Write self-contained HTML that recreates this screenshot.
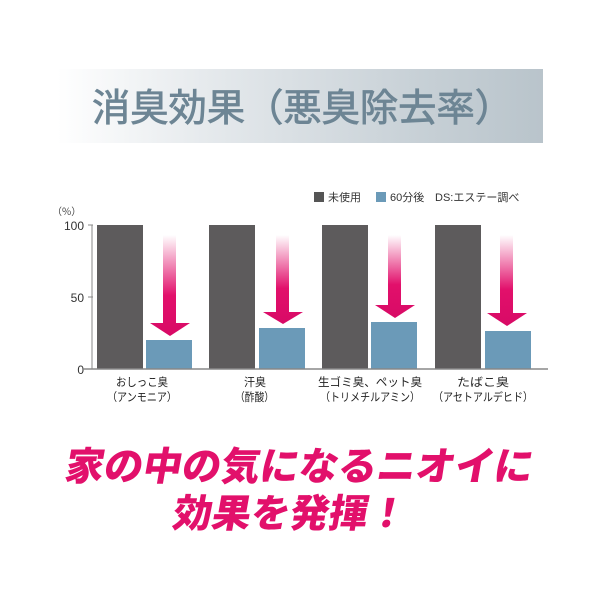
<!DOCTYPE html>
<html><head><meta charset="utf-8"><style>
body{margin:0;width:600px;height:600px;background:#fff;position:relative;overflow:hidden;font-family:"Noto Sans CJK JP","Liberation Sans",sans-serif}
.band{position:absolute;left:57px;top:69px;width:486px;height:74px;background:linear-gradient(90deg,#fff 0%,#e6eaed 30%,#c7d0d6 75%,#b9c4cb 100%)}
.pink{position:absolute;color:#e2106b;font-weight:900;font-size:39px;line-height:40px;transform:skewX(-10deg);white-space:nowrap;font-family:"Noto Sans CJK JP",sans-serif}
</style></head><body>
<div class="band"></div>
<svg width="600" height="600" style="position:absolute;left:0;top:0" font-family="Liberation Sans, Noto Sans CJK JP, sans-serif">
<defs><linearGradient id="g" x1="0" y1="0" x2="0" y2="1"><stop offset="0" stop-color="#e2106b" stop-opacity="0"/><stop offset="0.6" stop-color="#e2106b"/><stop offset="1" stop-color="#d80a66"/></linearGradient></defs>
<text x="92" y="121" font-size="38" fill="#6d8594" stroke="#6d8594" stroke-width="0.8" textLength="421" lengthAdjust="spacingAndGlyphs" font-family="Noto Sans CJK JP, sans-serif">消臭効果&#xFF08;悪臭除去率&#xFF09;</text>
<rect x="314" y="192" width="10" height="10" fill="#555"/>
<text x="328" y="201" font-size="11" fill="#333">未使用</text>
<rect x="376" y="192" width="10" height="10" fill="#6b9ab8"/>
<text x="390" y="201" font-size="11" fill="#333">60分後</text>
<text x="435" y="201" font-size="11" fill="#333">DS:エステー調べ</text>
<text x="52" y="215" font-size="10" fill="#444" font-family="Noto Sans CJK JP, sans-serif">&#xFF08;%&#xFF09;</text>
<line x1="88" y1="225" x2="93" y2="225" stroke="#888"/>
<line x1="88" y1="297" x2="93" y2="297" stroke="#888"/>
<line x1="92" y1="225" x2="92" y2="369" stroke="#888"/>
<text x="84" y="230" font-size="12" text-anchor="end" fill="#333">100</text>
<text x="84" y="302" font-size="12" text-anchor="end" fill="#333">50</text>
<text x="84" y="374" font-size="12" text-anchor="end" fill="#333">0</text>
<g fill="#5d5b5c">
<rect x="97" y="225" width="46" height="144"/><rect x="209" y="225" width="46" height="144"/><rect x="322" y="225" width="46" height="144"/><rect x="435" y="225" width="46" height="144"/></g>
<g fill="#6b9ab8">
<rect x="146" y="340" width="46" height="29"/><rect x="259" y="328" width="46" height="41"/><rect x="371" y="322" width="46" height="47"/><rect x="485" y="331" width="46" height="38"/></g>
<line x1="83" y1="369" x2="548" y2="369" stroke="#888" stroke-width="1.5"/>
<g fill="url(#g)">
<path d="M163 235h13v88h14l-20 13l-20-13h13z"/>
<path d="M276 235h13v77h14l-20 12l-20-12h13z"/>
<path d="M388 235h13v70h14l-20 13l-20-13h13z"/>
<path d="M500 235h13v78h14l-20 13l-20-13h13z"/>
</g>
<g font-size="11.5" fill="#222" font-family="Noto Sans CJK JP, sans-serif">
<text x="116" y="386" textLength="52" lengthAdjust="spacingAndGlyphs">おしっこ臭</text><text x="107" y="401" textLength="70" lengthAdjust="spacingAndGlyphs">&#xFF08;アンモニア&#xFF09;</text>
<text x="244" y="386" textLength="22" lengthAdjust="spacingAndGlyphs">汗臭</text><text x="235" y="401" textLength="39" lengthAdjust="spacingAndGlyphs">&#xFF08;酢酸&#xFF09;</text>
<text x="318" y="386" textLength="104" lengthAdjust="spacingAndGlyphs">生ゴミ臭、ペット臭</text><text x="320" y="401" textLength="100" lengthAdjust="spacingAndGlyphs">&#xFF08;トリメチルアミン&#xFF09;</text>
<text x="457" y="386" textLength="52" lengthAdjust="spacingAndGlyphs">たばこ臭</text><text x="433" y="401" textLength="100" lengthAdjust="spacingAndGlyphs">&#xFF08;アセトアルデヒド&#xFF09;</text>
</g>
</svg>
<div class="pink" style="left:66px;top:444px">家の中の気になるニオイに</div>
<div class="pink" style="left:174px;top:491px">効果を発揮&#xFF01;</div>
</body></html>
